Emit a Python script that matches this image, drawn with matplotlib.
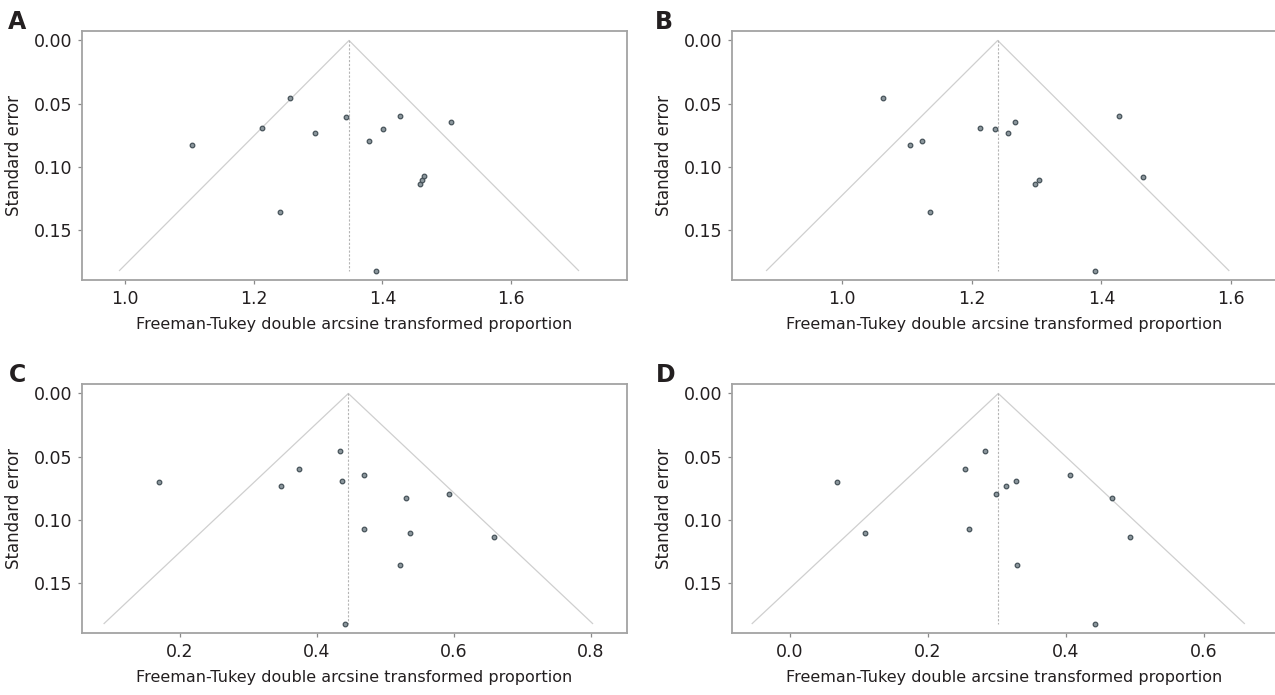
import numpy as np
import matplotlib
matplotlib.use('Agg')
import matplotlib.pyplot as plt

# --- datos ---
paneles = ['A', 'B', 'C', 'D']

ft_A = [1.2565, 1.2127, 1.1035, 1.2946, 1.3429, 1.2413, 1.3784, 1.4006, 1.4273,
        1.5067, 1.4590, 1.4616, 1.4640, 1.3905]
se_A = [0.0455, 0.0689, 0.0826, 0.0732, 0.0608, 0.1358, 0.0795, 0.0703, 0.0595,
        0.0642, 0.1132, 0.1105, 0.1076, 0.1824]

ft_B = [1.063, 1.104, 1.1225, 1.136, 1.2125, 1.236, 1.256, 1.266, 1.298, 1.304,
        1.4275, 1.464, 1.3906]
se_B = [0.0455, 0.0826, 0.0795, 0.1358, 0.0689, 0.0703, 0.0732, 0.0642, 0.1132,
        0.1105, 0.0595, 0.1079, 0.1824]

ft_C = [0.1696, 0.3479, 0.3735, 0.4343, 0.4361, 0.4689, 0.5303, 0.5924, 0.4683,
        0.5357, 0.6586, 0.5220, 0.4415]
se_C = [0.0703, 0.0729, 0.0595, 0.0453, 0.0689, 0.0642, 0.0826, 0.0797, 0.1076,
        0.1103, 0.1132, 0.1360, 0.1824]

ft_D = [0.0687, 0.1086, 0.2531, 0.2830, 0.2989, 0.3136, 0.3277, 0.4058, 0.4662,
        0.2595, 0.4932, 0.3288, 0.4422]
se_D = [0.0703, 0.1103, 0.0595, 0.0455, 0.0795, 0.0732, 0.0689, 0.0642, 0.0826,
        0.1076, 0.1132, 0.1358, 0.1824]

# estimacion combinada (centro del embudo) y SE maximo
centro = {'A': 1.348, 'B': 1.240, 'C': 0.446, 'D': 0.302}
se_max = 0.182

xticks = {'A': [1.0, 1.2, 1.4, 1.6],
          'B': [1.0, 1.2, 1.4, 1.6],
          'C': [0.2, 0.4, 0.6, 0.8],
          'D': [0.0, 0.2, 0.4, 0.6]}
yticks = [0.00, 0.05, 0.10, 0.15]

datos = {'A': (ft_A, se_A), 'B': (ft_B, se_B), 'C': (ft_C, se_C), 'D': (ft_D, se_D)}

W, H = 1275, 695
# posicion de cada eje en pixeles: izquierda, arriba, ancho, alto
cajas = {'A': (82, 31, 545, 249), 'B': (732, 31, 545, 249),
         'C': (82, 384, 545, 249), 'D': (732, 384, 545, 249)}
xlims = {'A': (0.933, 1.780), 'B': (0.830, 1.671),
         'C': (0.057, 0.853), 'D': (-0.084, 0.706)}
letras = {'A': (17, 22), 'B': (664, 22), 'C': (17, 375), 'D': (666, 375)}

texto = '#231f20'
gris = '#a3a3a3'

fig = plt.figure(figsize=(W / 100, H / 100), dpi=100)

for p in paneles:
    l, t, w, h = cajas[p]
    ax = fig.add_axes([l / W, 1 - (t + h) / H, w / W, h / H])
    ft, se = datos[p]
    c = centro[p]

    # embudo 95%
    ax.plot([c - 1.96 * se_max, c, c + 1.96 * se_max], [se_max, 0, se_max],
            color='#cfcfcf', lw=0.9, zorder=1)
    ax.plot([c, c], [0, se_max], color='#b5b5b5', lw=0.8, ls=(0, (2, 1.5)), zorder=1)

    ax.plot(ft, se, 'o', ms=3.3, mfc='#8c979d', mec='#47535a', mew=0.9, zorder=3)

    ax.set_xlim(*xlims[p])
    ax.set_ylim(0.1895, -0.0075)
    ax.set_xticks(xticks[p])
    ax.set_xticklabels(['%.1f' % v for v in xticks[p]])
    ax.set_yticks(yticks)
    ax.set_yticklabels(['%.2f' % v for v in yticks])

    for s in ax.spines.values():
        s.set_color(gris)
        s.set_linewidth(1.3)
    if p in ('B', 'D'):
        ax.spines['right'].set_visible(False)

    ax.tick_params(direction='out', length=3, width=0.9, color='#8a8a8a',
                   labelsize=12.5, labelcolor=texto, pad=4)
    ax.set_ylabel('Standard error', fontsize=12, color=texto, labelpad=8)
    ax.set_xlabel('Freeman-Tukey double arcsine transformed proportion',
                  fontsize=11.5, color=texto, labelpad=7)

    lx, ly = letras[p]
    fig.text(lx / W, 1 - ly / H, p, fontsize=17, fontweight='bold',
             color=texto, ha='center', va='center')

fig.savefig('out.png', dpi=100)
plt.close()
